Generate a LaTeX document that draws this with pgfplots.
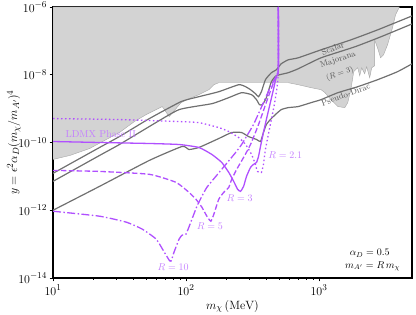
\documentclass[border=0pt]{standalone}
\usepackage{pgfplots}
\pgfplotsset{compat=1.18}
\definecolor{ldmx}{RGB}{176,80,255}
\definecolor{ldmxtxt}{RGB}{196,128,255}
\definecolor{relic}{RGB}{112,112,112}
\definecolor{relictxt}{RGB}{85,85,85}
\definecolor{excl}{RGB}{211,211,211}
\begin{document}
\begin{tikzpicture}
\path[use as bounding box] (-53pt,-37pt) rectangle (363pt,278pt);
\begin{axis}[
  at={(0pt,0pt)}, anchor=south west,
  scale only axis, width=359pt, height=271pt,
  xmode=log, ymode=log,
  xmin=10, xmax=5000, ymin=1e-14, ymax=1e-6,
  xtick={10,100,1000},
  ytick={1e-14,1e-12,1e-10,1e-8,1e-6},
  xminorticks=true, yminorticks=false,
  tick align=outside, tick pos=left,
  major tick length=3.5pt, minor tick length=2pt,
  every tick/.style={black, line width=0.8pt},
  axis line style={line width=1.1pt},
  ticklabel style={font=\fontsize{12.5}{14}\selectfont},
  yticklabel style={xshift=1pt},
  label style={font=\fontsize{13}{15}\selectfont},
  xlabel={$m_\chi\,(\mathrm{MeV})$},
  ylabel={$y=\epsilon^2\alpha_D(m_\chi/m_{A'})^4$},
  xlabel style={yshift=2pt},
  ylabel style={at={(axis description cs:-0.109,0.5)}, anchor=center},
  clip=true,
]
% excluded region
\addplot[fill=excl, draw=black!35, line width=0.4pt] coordinates {
(10,1e-6)(10,3.16e-11)(13.4,4.15e-11)(18.9,6.67e-11)(24.4,1.15e-10)(31.6,1.97e-10)
(40.9,4.15e-10)(50.2,6.67e-10)(66.3,1.15e-9)(74.7,5.82e-10)(91.8,1.50e-9)(105.2,1.97e-9)
(125,2.58e-9)(148.6,3.62e-9)(161.9,5.08e-9)(176.3,5.82e-9)(587,5.82e-9)(697,5.08e-9)
(871,4.15e-9)(1035,3.62e-9)(1109,2.96e-9)(1230,1.84e-9)(1387,1.15e-9)(1563,1.07e-9)
(1644,1.50e-9)(1734,3.62e-9)(1824,1.23e-8)(1954,1.61e-8)(2023,9.35e-9)(2094,1.61e-8)
(2203,1.07e-8)(2281,1.72e-8)(2404,8.16e-9)(2489,1.61e-8)(2618,1.84e-8)(2618,1.07e-7)
(2754,6.22e-8)(2904,3.16e-8)(3055,3.87e-8)(3273,7.63e-8)(3565,2.41e-7)(3758,5.82e-7)
(4018,1e-6)(10,1e-6)};
% relic targets
\addplot[relic, line width=1.2pt, smooth, tension=0.3] coordinates {
(10,1.23e-11)(22.4,7.13e-11)(31.6,1.50e-10)(53,5.08e-10)(91.8,1.61e-9)(125,2.25e-9)
(176.3,3.16e-9)(248.9,5.08e-9)(280.5,4.44e-9)(305.5,3.62e-9)(332.7,2.76e-9)(350.8,2.25e-9)
(368.9,3.16e-9)(395.4,7.13e-9)(438.5,1.15e-8)(477.5,1.40e-8)(520,2.11e-8)(587,2.76e-8)
(697,3.16e-8)(1035,5.44e-8)(1734,1.07e-7)(2754,2.11e-7)(5000,5.44e-7)};
\addplot[relic, line width=1.2pt, smooth, tension=0.3] coordinates {
(10,7.13e-12)(22.4,4.15e-11)(31.6,8.73e-11)(53,2.96e-10)(88.7,9.35e-10)(156.4,1.40e-9)
(209.6,2.11e-9)(261.8,2.96e-9)(311,2.58e-9)(338.8,1.84e-9)(356.5,1.31e-9)(375.8,1.31e-9)
(401.8,2.11e-9)(438.5,6.22e-9)(477.5,9.35e-9)(587,1.15e-8)(697,1.50e-8)(1035,3.16e-8)
(1858,6.67e-8)(2904,1.31e-7)(5000,3.16e-7)};
\addplot[relic, line width=1.2pt, smooth, tension=0.3] coordinates {
(10,1.0e-12)(22.4,5.08e-12)(53,2.96e-11)(93.4,7.63e-11)(105.2,6.22e-11)(125,7.13e-11)
(176.3,1.31e-10)(220.4,1.97e-10)(261.8,1.97e-10)(295.1,1.50e-10)(338.8,1.23e-10)
(363.1,1.07e-10)(382,1.97e-10)(401.8,3.38e-10)(430.5,4.75e-10)(469.9,6.67e-10)
(520,9.35e-10)(587,1.07e-9)(697,1.15e-9)(871,1.50e-9)(1035,1.84e-9)(1387,2.96e-9)
(1954,4.44e-9)(2754,7.13e-9)(3890,1.23e-8)(5000,2.1e-8)};
% LDMX curves
\addplot[ldmx, line width=1.3pt, smooth, tension=0.3] coordinates {
(10,1.07e-10)(22.4,1.0e-10)(53,9.35e-11)(88.7,8.73e-11)(125,7.13e-11)(156.4,4.44e-11)
(185.6,2.58e-11)(209.6,1.31e-11)(228.2,7.13e-12)(244.4,4.15e-12)(257,3.62e-12)
(271,5.08e-12)(285.1,1.0e-11)(305.5,1.84e-11)(321.4,2.25e-11)(338.8,2.58e-11)
(350.8,3.87e-11)(363.1,7.63e-11)(382,1.97e-10)(401.8,4.75e-10)(430.5,1.50e-9)
(453.9,3.62e-9)(477.5,8.73e-9)(494.3,1.40e-8)(494.3,1e-6)};
\addplot[ldmx, line width=1.3pt, dash pattern=on 1.5pt off 2.5pt, smooth, tension=0.3] coordinates {
(10,5.08e-10)(31.6,4.75e-10)(88.7,4.15e-10)(125,3.87e-10)(176.3,2.76e-10)(209.6,2.11e-10)
(248.9,1.40e-10)(280.5,8.73e-11)(311,4.44e-11)(332.7,2.25e-11)(344.4,1.40e-11)
(368.9,1.31e-11)(382,2.25e-11)(395.4,6.22e-11)(430.5,3.38e-10)(461.3,1.31e-9)
(486.4,5.08e-9)(494.3,1.40e-8)(494.3,1e-6)};
\addplot[ldmx, line width=1.3pt, dash pattern=on 5.5pt off 2.4pt, smooth, tension=0.3] coordinates {
(10,1.50e-11)(22.4,1.40e-11)(53,1.15e-11)(84.1,6.67e-12)(105.2,3.38e-12)(118.8,2.11e-12)
(131.6,1.23e-12)(143.5,6.67e-13)(153.8,4.75e-13)(161.9,7.63e-13)(176.3,2.11e-12)
(192.2,3.38e-12)(209.6,4.75e-12)(220.4,8.16e-12)(240.4,1.61e-11)(271,3.62e-11)
(305.5,8.73e-11)(350.8,3.38e-10)(415.9,2.25e-9)(469.9,8.16e-9)(494.3,1.40e-8)(494.3,1e-6)};
\addplot[ldmx, line width=1.3pt, dash pattern=on 8pt off 2.4pt on 1.5pt off 2.4pt, smooth, tension=0.3] coordinates {
(10,9.35e-13)(22.4,6.67e-13)(35.6,4.44e-13)(47.0,2.76e-13)(59.7,1.40e-13)(68.6,5.82e-14)
(74.7,3.38e-14)(77.3,3.16e-14)(81.3,5.82e-14)(88.7,1.40e-13)(93.4,1.84e-13)(100,1.97e-13)
(110.8,5.44e-13)(120.8,1.31e-12)(131.6,2.58e-12)(143.5,4.75e-12)(167.6,1.0e-11)
(199.1,2.25e-11)(236.2,5.08e-11)(261.8,8.73e-11)(321.4,3.38e-10)(382,1.50e-9)
(438.5,5.08e-9)(494.3,1.40e-8)(494.3,1e-6)};
% labels
\node[anchor=west, text=ldmxtxt, font=\fontsize{10}{12}\selectfont] at (axis cs:11.7,1.72e-10) {LDMX Phase II};
\node[text=ldmxtxt, font=\fontsize{10}{12}\selectfont] at (axis cs:557,4.15e-11) {$R=2.1$};
\node[text=ldmxtxt, font=\fontsize{10}{12}\selectfont] at (axis cs:253,2.25e-12) {$R=3$};
\node[text=ldmxtxt, font=\fontsize{10}{12}\selectfont] at (axis cs:151,3.38e-13) {$R=5$};
\node[text=ldmxtxt, font=\fontsize{10}{12}\selectfont] at (axis cs:80,2.11e-14) {$R=10$};
\node[text=relictxt, rotate=21, inner sep=0pt, font=\fontsize{8.3}{10}\selectfont] at (axis cs:1271,5.9e-8) {Scalar};
\node[text=relictxt, rotate=19, inner sep=0pt, font=\fontsize{8.3}{10}\selectfont] at (axis cs:1387,2.76e-8) {Majorana};
\node[text=relictxt, rotate=20, inner sep=0pt, font=\fontsize{8.3}{10}\selectfont] at (axis cs:1435,1.05e-8) {$(R=3)$};
\node[text=relictxt, rotate=20, inner sep=0pt, font=\fontsize{8.3}{10}\selectfont] at (axis cs:1589,2.58e-9) {Pseudo-Dirac};
\node[font=\fontsize{10}{12}\selectfont] at (axis cs:2404,5.43e-14) {$\alpha_D=0.5$};
\node[font=\fontsize{10}{12}\selectfont] at (axis cs:2531,2.25e-14) {$m_{A'}=R\,m_\chi$};
\end{axis}
\end{tikzpicture}
\end{document}
